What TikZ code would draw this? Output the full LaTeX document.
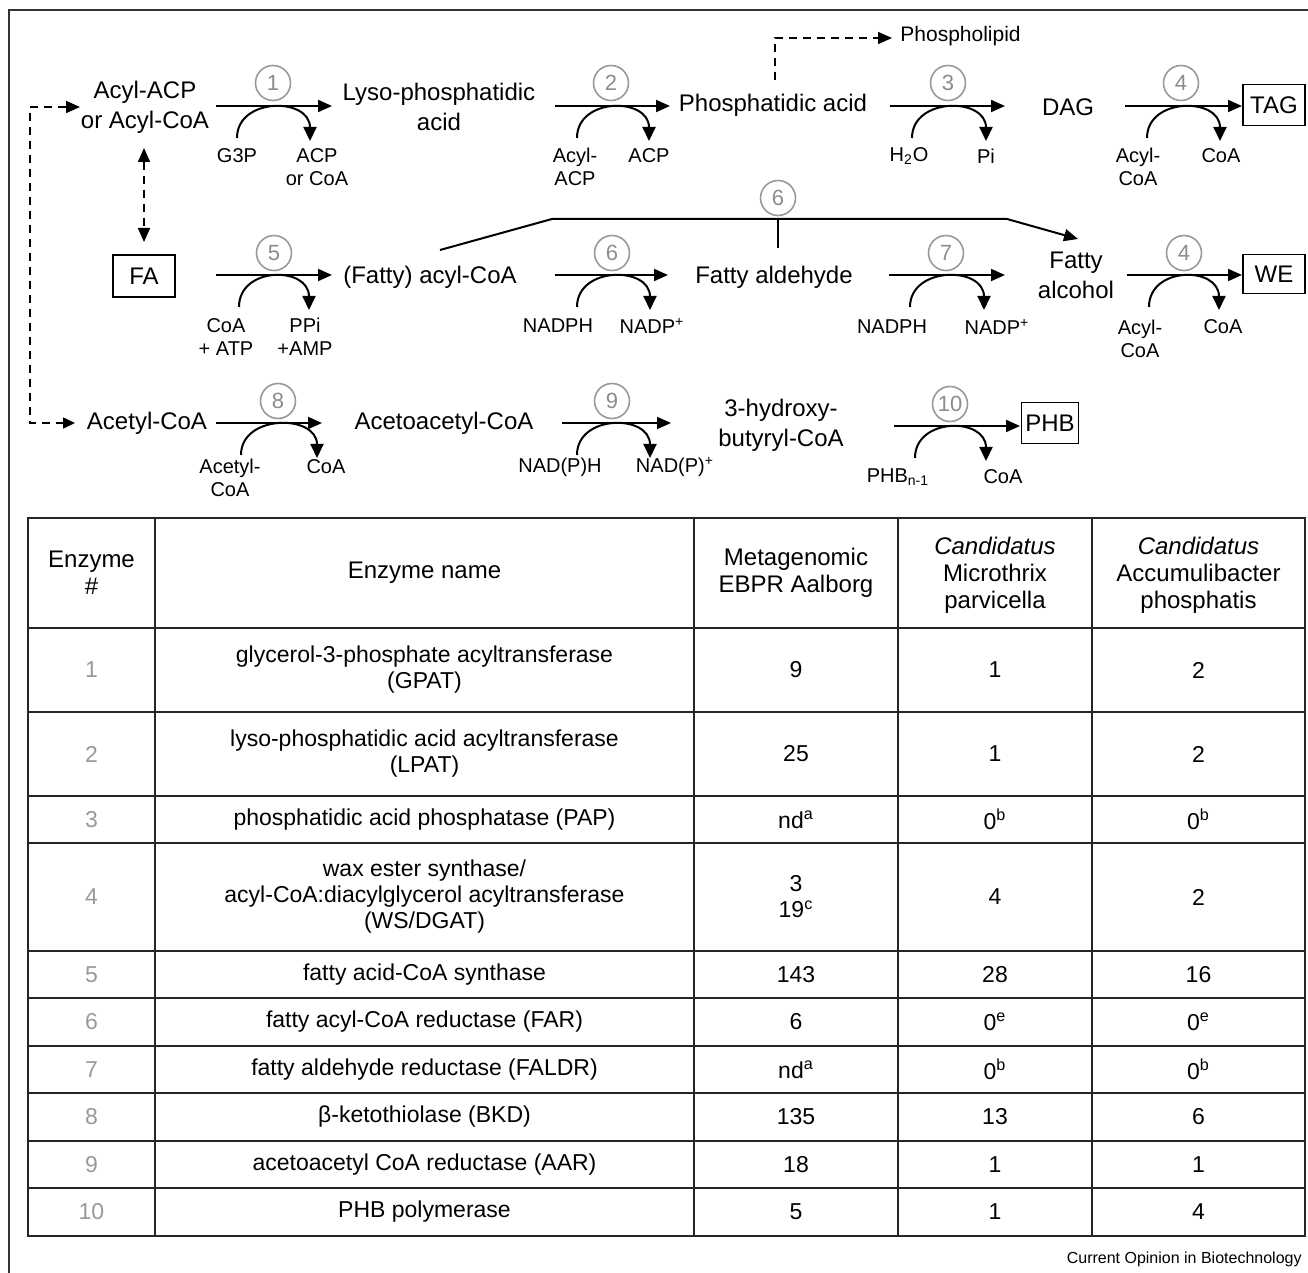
\documentclass[tikz,border=0pt]{standalone}
\usepackage{fontspec}
\setmainfont{Liberation Sans}
\usetikzlibrary{arrows.meta,calc}
\newcommand\rxnarrow[4]{%
  \coordinate (#1s) at (#2,#4);
  \coordinate (#1e) at (#3,#4);
  \draw[rx] (#1s) -- (#1e);}
\newcommand\cofarrow[4]{%
  \coordinate (#1a) at (#2,{#4+32});
  \coordinate (#1b) at (#3,{#4+35});
  \draw[cf] (#1a) .. controls (#2,{#4-9}) and (#3,{#4-9}) .. (#1b);}
\newcommand\trow[6]{%
  \node[tnum] (n#1) at (91.5,#2) {#1};
  \node[tb] (e#1) at (424.5,#2) {#3};
  \node[tb] (m#1) at (796,#2) {#4};
  \node[tb] (x#1) at (995,#2) {#5};
  \node[tb] (p#1) at (1198.5,#2) {#6};}
\begin{document}
\begin{tikzpicture}[x=0.5pt,y=-0.5pt,
  rx/.style={line width=1pt,-{Triangle[length=7pt,width=6pt]}},
  cf/.style={line width=1pt,-{Triangle[length=7pt,width=6.5pt]}},
  dsh/.style={line width=0.8pt,dash pattern=on 4pt off 3pt},
  mainlbl/.style={font=\fontsize{12}{15}\selectfont,align=center,inner sep=0pt},
  smlbl/.style={font=\fontsize{10}{11.5}\selectfont,align=center,inner sep=0pt},
  enz/.style={circle,draw=black!40,line width=0.8pt,minimum size=17.5pt,inner sep=0pt,text=black!45,font=\fontsize{11}{12}\selectfont},
  prod/.style={draw,line width=0.9pt,minimum height=20.5pt,inner sep=0pt,font=\fontsize{12}{14}\selectfont},
  tb/.style={font=\fontsize{11.5}{13}\selectfont,align=center,inner sep=0pt},
  tnum/.style={tb,text=black!40},
  th/.style={font=\fontsize{12}{13.5}\selectfont,align=center,inner sep=0pt}]
\useasboundingbox (0,0) rectangle (1308,1273);
% frame
\draw[line width=0.8pt,black!80] (9,1273) -- (9,10) -- (1308,10);

% ---------- row 1 ----------
\node[mainlbl] (acyl) at (145,107) {Acyl-ACP\\or Acyl-CoA};
\node[mainlbl] (lyso) at (439,107) {Lyso-phosphatidic\\acid};
\node[mainlbl] (pa) at (773,105) {Phosphatidic acid};
\node[font=\fontsize{10.5}{12}\selectfont,inner sep=0pt,anchor=west] (phl) at (900,36) {Phospholipid};
\node[mainlbl] (dag) at (1068,107) {DAG};
\node[prod,minimum width=31pt] (tag) at (1274,105) {TAG};

\rxnarrow{r1}{216}{332}{106}
\rxnarrow{r2}{555}{670}{106}
\rxnarrow{r3}{890}{1005}{106}
\rxnarrow{r4}{1125}{1242}{106}
\node[enz] (c1) at (273,83) {1};
\node[enz] (c2) at (611,83) {2};
\node[enz] (c3) at (948,83) {3};
\node[enz] (c4) at (1181,83) {4};
\cofarrow{k1}{237}{310}{106}
\cofarrow{k2}{577}{649}{106}
\cofarrow{k3}{912}{986}{106}
\cofarrow{k4}{1147}{1220}{106}
\node[smlbl] (g3p) at (237,156) {G3P};
\node[smlbl] (acpcoa) at (317,167) {ACP\\or CoA};
\node[smlbl] (acylacp) at (575,167) {Acyl-\\ACP};
\node[smlbl] (acp) at (649,156) {ACP};
\node[smlbl] (h2o) at (909,156) {H\textsubscript{2}O};
\node[smlbl] (pi) at (986,156) {Pi};
\node[smlbl] (acylcoaA) at (1138,167) {Acyl-\\CoA};
\node[smlbl] (coaA) at (1221,156) {CoA};

% phospholipid branch
\coordinate (phs) at (775,80);
\coordinate (phe) at (892,38);
\draw[dsh,-{Triangle[length=7pt,width=6pt]}] (phs) -- (775,38) -- (phe);

% ---------- row 2 ----------
\node[prod,minimum width=31pt,minimum height=21pt] (fa) at (144,276) {FA};
\node[mainlbl] (facoa) at (430,277) {(Fatty) acyl-CoA};
\node[mainlbl] (fald) at (774,277) {Fatty aldehyde};
\node[mainlbl] (falc) at (1076,275) {Fatty\\alcohol};
\node[prod,minimum width=31pt,minimum height=19.5pt] (we) at (1274,274) {WE};

\rxnarrow{r5}{216}{332}{275}
\rxnarrow{r6}{555}{668}{275}
\rxnarrow{r7}{889}{1005}{275}
\rxnarrow{r8}{1127}{1242}{275}
\node[enz] (c5) at (274,253) {5};
\node[enz] (c6) at (612,253) {6};
\node[enz] (c7) at (946,253) {7};
\node[enz] (c4b) at (1184,253) {4};
\cofarrow{k5}{239}{309}{275}
\cofarrow{k6}{577}{650}{275}
\cofarrow{k7}{910}{984}{275}
\cofarrow{k8}{1149}{1219}{275}
\node[smlbl] (coaatp) at (226,337) {CoA\\+ ATP};
\node[smlbl] (ppi) at (305,337) {PPi\\+AMP};
\node[smlbl] (nadphA) at (558,326) {NADPH};
\node[smlbl] (nadpA) at (652,326) {NADP\textsuperscript{+}};
\node[smlbl] (nadphB) at (892,327) {NADPH};
\node[smlbl] (nadpB) at (997,327) {NADP\textsuperscript{+}};
\node[smlbl] (acylcoaB) at (1140,339) {Acyl-\\CoA};
\node[smlbl] (coaB) at (1223,327) {CoA};

% FAR bypass (enzyme 6)
\coordinate (bs) at (440,250);
\coordinate (be) at (1078,239);
\draw[rx] (bs) -- (552,219) -- (1007,219) -- (be);
\coordinate (tk) at (778,248);
\draw[line width=1pt] (778,219) -- (tk);
\node[enz] (c6b) at (778,198) {6};

% acyl <-> FA
\coordinate (va) at (144,148);
\coordinate (vb) at (144,242);
\draw[dsh,{Triangle[length=7pt,width=6pt]}-{Triangle[length=7pt,width=6pt]}] (va) -- (vb);

% ---------- row 3 ----------
\node[mainlbl] (acetyl) at (147,423) {Acetyl-CoA};
\node[mainlbl] (acac) at (444,423) {Acetoacetyl-CoA};
\node[mainlbl] (hb) at (781,425) {3-hydroxy-\\butyryl-CoA};
\node[prod,minimum width=28.5pt] (phb) at (1050,423) {PHB};

\rxnarrow{r9}{216}{322}{423}
\rxnarrow{r10}{562}{671}{423}
\rxnarrow{r11}{894}{1020}{426}
\node[enz] (c8) at (278,401) {8};
\node[enz] (c9) at (612,401) {9};
\node[enz] (c10) at (950,404) {10};
\cofarrow{k9}{241}{317}{423}
\cofarrow{k10}{577}{650}{423}
\cofarrow{k11}{915}{986}{426}
\node[smlbl] (acetylcoa) at (230,478) {Acetyl-\\CoA};
\node[smlbl] (coaC) at (326,467) {CoA};
\node[smlbl] (nadphC) at (560,467) {NAD(P)H};
\node[smlbl] (nadpC) at (675,467) {NAD(P)\textsuperscript{+}};
\node[smlbl] (phbn) at (898,477) {PHB\textsubscript{n-1}};
\node[smlbl] (coaD) at (1003,477) {CoA};

% left dashed link
\coordinate (la) at (80,107);
\coordinate (lb) at (75,423);
\draw[dsh,{Triangle[length=7pt,width=6pt]}-{Triangle[length=6pt,width=5.5pt]}] (la) -- (30,107) -- (30,423) -- (lb);

% ---------- table ----------
\begin{scope}[line width=1pt,black!85]
  \draw (28,518) rectangle (1305,1236);
  \foreach \xx in {155,694,898,1092} \draw (\xx,518) -- (\xx,1236);
  \foreach \yy in {628,712,796,843,951,998,1046,1093,1141,1188} \draw (28,\yy) -- (1305,\yy);
\end{scope}
\node[th] (h1) at (91.5,573) {Enzyme\\\#};
\node[th] (h2) at (424.5,573) {Enzyme name};
\node[th] (h3) at (796,573) {Metagenomic\\EBPR Aalborg};
\node[th] (h4) at (995,575) {\textit{Candidatus}\\Microthrix\\parvicella};
\node[th] (h5) at (1198.5,575) {\textit{Candidatus}\\Accumulibacter\\phosphatis};

\trow{1}{670}{glycerol-3-phosphate acyltransferase\\(GPAT)}{9}{1}{2}
\trow{2}{754}{lyso-phosphatidic acid acyltransferase\\(LPAT)}{25}{1}{2}
\trow{3}{819.5}{phosphatidic acid phosphatase (PAP)}{nd\textsuperscript{a}}{0\textsuperscript{b}}{0\textsuperscript{b}}
\trow{4}{897}{wax ester synthase/\\acyl-CoA:diacylglycerol acyltransferase\\(WS/DGAT)}{3\\19\textsuperscript{c}}{4}{2}
\trow{5}{974.5}{fatty acid-CoA synthase}{143}{28}{16}
\trow{6}{1022}{fatty acyl-CoA reductase (FAR)}{6}{0\textsuperscript{e}}{0\textsuperscript{e}}
\trow{7}{1069.5}{fatty aldehyde reductase (FALDR)}{nd\textsuperscript{a}}{0\textsuperscript{b}}{0\textsuperscript{b}}
\trow{8}{1117}{β-ketothiolase (BKD)}{135}{13}{6}
\trow{9}{1164.5}{acetoacetyl CoA reductase (AAR)}{18}{1}{1}
\trow{10}{1212}{PHB polymerase}{5}{1}{4}

\node[font=\fontsize{8}{9}\selectfont,inner sep=0pt,anchor=east] (src) at (1302,1259) {Current Opinion in Biotechnology};
\end{tikzpicture}
\end{document}
